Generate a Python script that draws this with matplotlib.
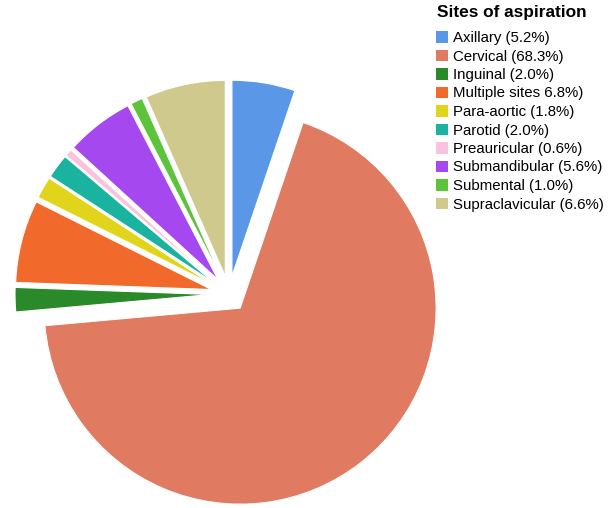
import matplotlib
matplotlib.use("Agg")
import matplotlib.pyplot as plt
import matplotlib.patches as mpatches

sites = ["Axillary", "Cervical", "Inguinal", "Multiple sites", "Para-aortic",
         "Parotid", "Preauricular", "Submandibular", "Submental", "Supraclavicular"]
shares = [5.2, 68.3, 2.0, 6.8, 1.8, 2.0, 0.6, 5.6, 1.0, 6.6]
legendLabels = ["Axillary (5.2%)", "Cervical (68.3%)", "Inguinal (2.0%)",
                "Multiple sites 6.8%)", "Para-aortic (1.8%)", "Parotid (2.0%)",
                "Preauricular (0.6%)", "Submandibular (5.6%)", "Submental (1.0%)",
                "Supraclavicular (6.6%)"]
colors = ["#5a97e6", "#e07a60", "#2a8a2a", "#f26a2b", "#e0d51a",
          "#1ab3a0", "#f8c3de", "#a648f0", "#5cc43a", "#cfc98e"]

plt.rcParams["font.family"] = ["Liberation Sans", "DejaVu Sans"]

fig = plt.figure(figsize=(6.08, 5.08), dpi=100)
ax = fig.add_axes([0, 0, 1, 1])

ax.pie(shares, colors=colors, startangle=90, counterclock=False,
       center=(229, 214), radius=196, explode=[18] * len(shares),
       wedgeprops=dict(edgecolor="white", linewidth=0.8))
ax.set_xlim(0, 608)
ax.set_ylim(0, 508)
ax.set_aspect("equal")
ax.axis("off")

fig.text(437 / 608, 1 - 12 / 508, "Sites of aspiration", fontsize=12.4,
         fontweight="bold", va="center", ha="left")

handles = [mpatches.Patch(facecolor=c, edgecolor="none") for c in colors]
leg = fig.legend(handles, legendLabels,
                 loc="upper left", bbox_to_anchor=(436 / 608, 1 - 31 / 508),
                 frameon=False, fontsize=10.8, borderpad=0, borderaxespad=0,
                 handlelength=0.8, handleheight=0.8, handletextpad=0.33,
                 labelspacing=0.3)

fig.savefig("out.png", dpi=100)
